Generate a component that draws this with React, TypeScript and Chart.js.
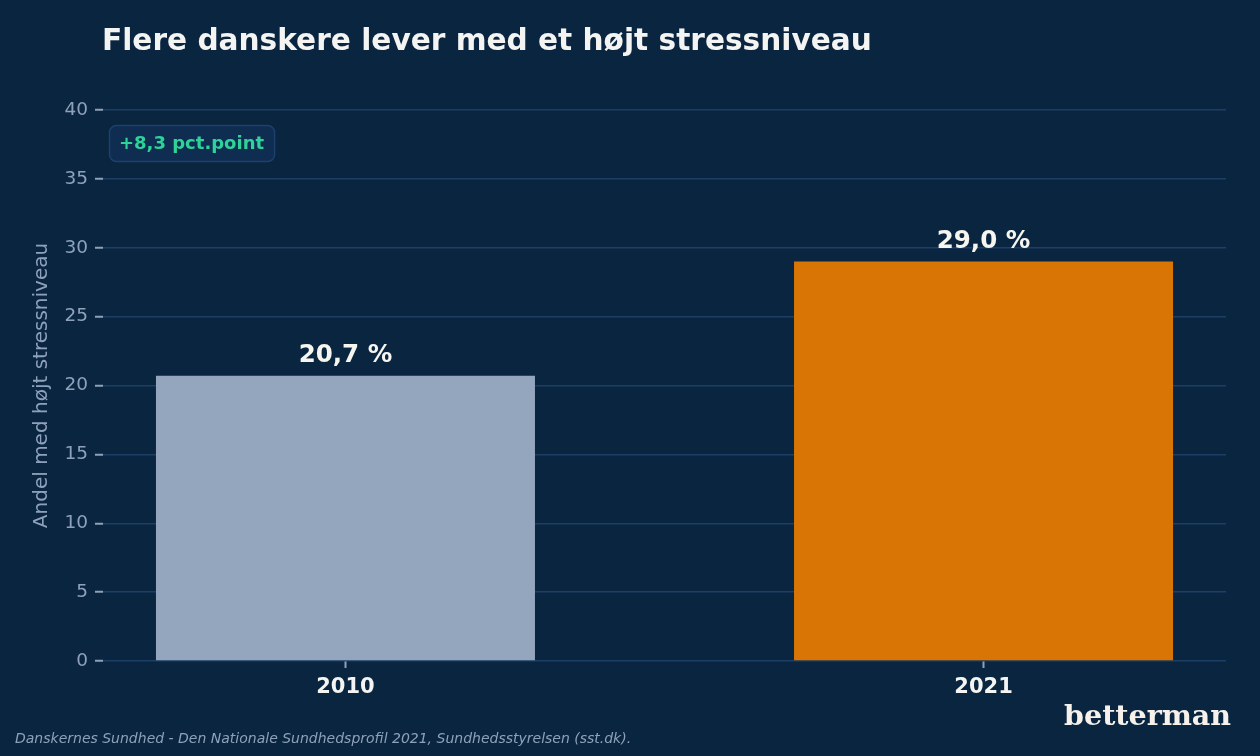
import React, { useEffect, useRef } from "react";
import { Chart, registerables } from "chart.js";

Chart.register(...registerables);

const years = ["2010", "2021"];
const shares = [20.7, 29.0];
const barColors = ["#94a5be", "#d97504"];
const yTicks = [0, 5, 10, 15, 20, 25, 30, 35, 40];
const valueLabels = ["20,7 %", "29,0 %"];

const TITLE = "Flere danskere lever med et højt stressniveau";
const Y_TITLE = "Andel med højt stressniveau";
const CHANGE_NOTE = "+8,3 pct.point";
const SOURCE = "Danskernes Sundhed - Den Nationale Sundhedsprofil 2021, Sundhedsstyrelsen (sst.dk).";
const BRAND = "betterman";

const BG = "#0a2540";
const GRID = "#1d3f66";
const MUTED = "#8fa1ba";
const FONT = "'DejaVu Sans', sans-serif";

const decorations = {
  id: "decorations",
  beforeDraw(chart: any) {
    const { ctx, width, height } = chart;
    ctx.save();
    ctx.fillStyle = BG;
    ctx.fillRect(0, 0, width, height);
    ctx.restore();
  },
  afterDraw(chart: any) {
    const { ctx, chartArea, scales } = chart;
    ctx.save();

    // title
    ctx.fillStyle = "#f4f4f2";
    ctx.font = `bold 29.6px ${FONT}`;
    ctx.textAlign = "left";
    ctx.textBaseline = "middle";
    ctx.fillText(TITLE, 102, 42);

    // y axis title
    ctx.save();
    ctx.translate(42, (chartArea.top + chartArea.bottom) / 2);
    ctx.rotate(-Math.PI / 2);
    ctx.fillStyle = MUTED;
    ctx.font = `20px ${FONT}`;
    ctx.textAlign = "center";
    ctx.textBaseline = "middle";
    ctx.fillText(Y_TITLE, 0, 0);
    ctx.restore();

    // value labels above bars
    ctx.fillStyle = "#f7f5f0";
    ctx.font = `bold 24.5px ${FONT}`;
    ctx.textAlign = "center";
    ctx.textBaseline = "bottom";
    shares.forEach((v, i) => {
      const x = scales.x.getPixelForValue(i);
      const y = scales.y.getPixelForValue(v);
      ctx.fillText(valueLabels[i], x, y - 8);
    });

    // change note box
    ctx.font = `bold 18px ${FONT}`;
    const tw = ctx.measureText(CHANGE_NOTE).width;
    const bx = chartArea.left + 6;
    const by = chartArea.top + 15;
    const bw = tw + 20;
    const bh = 36;
    ctx.beginPath();
    ctx.roundRect(bx + 0.5, by + 0.5, bw, bh, 7);
    ctx.fillStyle = "#0e2d50";
    ctx.fill();
    ctx.lineWidth = 1.5;
    ctx.strokeStyle = "#1c416c";
    ctx.stroke();
    ctx.fillStyle = "#2fd39a";
    ctx.textAlign = "left";
    ctx.textBaseline = "middle";
    ctx.fillText(CHANGE_NOTE, bx + 10, by + bh / 2 + 1);

    // source
    ctx.fillStyle = MUTED;
    ctx.font = `italic 14px ${FONT}`;
    ctx.textAlign = "left";
    ctx.textBaseline = "middle";
    ctx.fillText(SOURCE, 15, 739);

    // brand
    ctx.fillStyle = "#f6f1ea";
    ctx.font = `bold 28.5px 'DejaVu Serif', serif`;
    ctx.textAlign = "right";
    ctx.textBaseline = "middle";
    ctx.fillText(BRAND, 1231, 718);

    ctx.restore();
  },
};

export default function App() {
  const ref = useRef<HTMLCanvasElement | null>(null);

  useEffect(() => {
    if (!ref.current) return;
    const chart = new Chart(ref.current, {
      type: "bar",
      data: {
        datasets: [
          {
            data: shares.map((v, i) => ({ x: i, y: v })),
            backgroundColor: barColors,
            borderWidth: 0,
            barPercentage: 0.594,
            categoryPercentage: 1,
          },
        ],
      },
      options: {
        animation: false,
        responsive: false,
        devicePixelRatio: 1,
        layout: { padding: { top: 110, right: 34, bottom: 0, left: 0 } },
        plugins: {
          legend: { display: false },
          tooltip: { enabled: false },
        },
        scales: {
          x: {
            type: "linear",
            offset: false,
            min: -0.38,
            max: 1.38,
            afterBuildTicks: (scale: any) => {
              scale.ticks = years.map((_, i) => ({ value: i }));
            },
            afterFit: (scale: any) => {
              scale.height = 95;
            },
            ticks: {
              autoSkip: false,
              maxRotation: 0,
              padding: 7,
              color: "#f4f4f2",
              font: { family: FONT, size: 21, weight: "bold" },
              callback: (v: any) => years[v] ?? "",
            },
            grid: {
              offset: false,
              drawOnChartArea: false,
              drawTicks: true,
              tickLength: 7,
              tickColor: MUTED,
              tickWidth: 2,
            },
            border: { display: false },
          },
          y: {
            min: 0,
            max: 40,
            afterBuildTicks: (scale: any) => {
              scale.ticks = yTicks.map((v) => ({ value: v }));
            },
            afterFit: (scale: any) => {
              scale.width = 103;
            },
            ticks: {
              padding: 7,
              color: MUTED,
              font: { family: FONT, size: 18.5 },
            },
            grid: {
              color: GRID,
              lineWidth: 1.5,
              drawTicks: true,
              tickLength: 8,
              tickColor: MUTED,
              tickWidth: 2,
            },
            border: { display: false },
          },
        },
      },
      plugins: [decorations],
    } as any);
    return () => chart.destroy();
  }, []);

  return (
    <div style={{ position: "fixed", left: 0, top: 0, width: 1260, height: 756, background: BG }}>
      <canvas ref={ref} width={1260} height={756} style={{ display: "block" }} />
    </div>
  );
}
